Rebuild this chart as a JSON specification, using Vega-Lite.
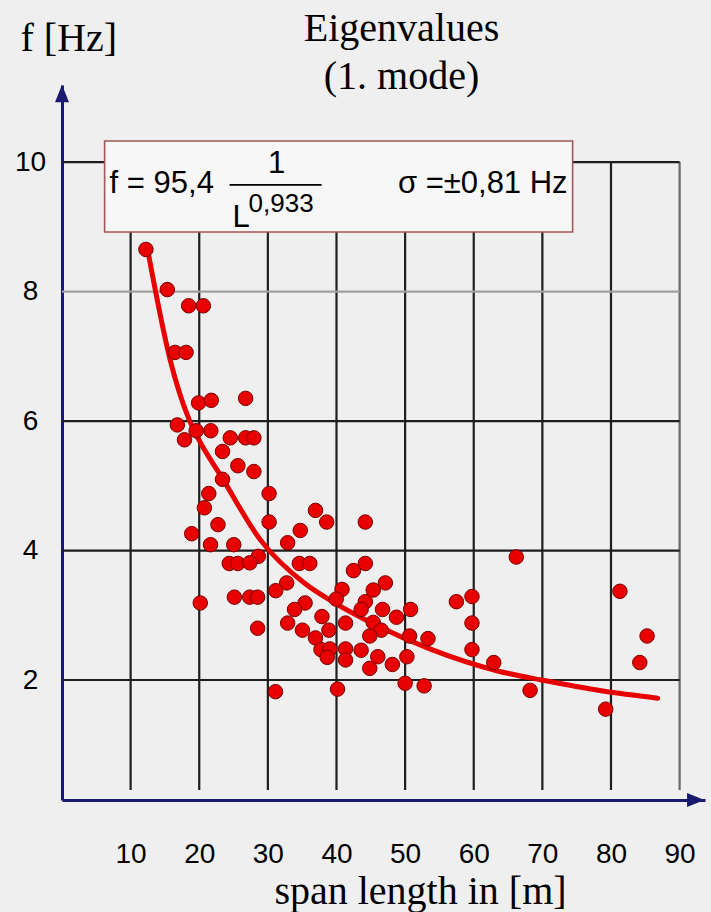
{
  "$schema": "https://vega.github.io/schema/vega-lite/v6.json",
  "width": 643,
  "height": 715,
  "autosize": {"type": "none"},
  "padding": {"left": 62, "top": 85, "right": 6, "bottom": 112},
  "background": "#efefef",
  "config": {"view": {"stroke": null}},
  "title": {
    "text": ["Eigenvalues", "(1. mode)"],
    "font": "Liberation Serif",
    "fontSize": 40,
    "fontWeight": "normal",
    "color": "#000000",
    "lineHeight": 48,
    "anchor": "middle",
    "frame": "group",
    "dx": 18,
    "dy": 79,
    "offset": 0
  },
  "datasets": {
    "pts": [
      {"L": 12.23, "f": 8.65}, {"L": 15.34, "f": 8.03}, {"L": 18.45, "f": 7.78}, {"L": 20.6, "f": 7.78},
      {"L": 16.48, "f": 7.06}, {"L": 18.08, "f": 7.06}, {"L": 19.9, "f": 6.28}, {"L": 21.75, "f": 6.32},
      {"L": 26.76, "f": 6.35}, {"L": 16.81, "f": 5.94}, {"L": 17.85, "f": 5.71}, {"L": 19.55, "f": 5.85},
      {"L": 21.69, "f": 5.85}, {"L": 24.52, "f": 5.74}, {"L": 26.76, "f": 5.74}, {"L": 27.96, "f": 5.74},
      {"L": 23.39, "f": 5.53}, {"L": 25.63, "f": 5.31}, {"L": 27.96, "f": 5.22}, {"L": 23.39, "f": 5.10},
      {"L": 21.39, "f": 4.88}, {"L": 20.75, "f": 4.66}, {"L": 30.18, "f": 4.88}, {"L": 30.18, "f": 4.44},
      {"L": 22.73, "f": 4.40}, {"L": 36.94, "f": 4.62}, {"L": 38.57, "f": 4.44}, {"L": 34.72, "f": 4.31},
      {"L": 18.9, "f": 4.26}, {"L": 44.2, "f": 4.44}, {"L": 21.64, "f": 4.09}, {"L": 25.03, "f": 4.09},
      {"L": 32.88, "f": 4.12}, {"L": 28.61, "f": 3.91}, {"L": 24.37, "f": 3.80}, {"L": 25.63, "f": 3.80},
      {"L": 27.36, "f": 3.81}, {"L": 34.58, "f": 3.80}, {"L": 36.11, "f": 3.80}, {"L": 44.2, "f": 3.80},
      {"L": 42.47, "f": 3.69}, {"L": 32.74, "f": 3.50}, {"L": 20.15, "f": 3.19}, {"L": 25.12, "f": 3.28},
      {"L": 27.36, "f": 3.28}, {"L": 28.51, "f": 3.28}, {"L": 31.15, "f": 3.38}, {"L": 40.8, "f": 3.40},
      {"L": 45.35, "f": 3.39}, {"L": 47.12, "f": 3.50}, {"L": 39.96, "f": 3.25}, {"L": 35.42, "f": 3.19},
      {"L": 33.89, "f": 3.09}, {"L": 44.2, "f": 3.21}, {"L": 43.59, "f": 3.09}, {"L": 46.71, "f": 3.09},
      {"L": 50.8, "f": 3.09}, {"L": 57.47, "f": 3.21}, {"L": 59.74, "f": 3.29}, {"L": 37.88, "f": 2.98},
      {"L": 48.74, "f": 2.97}, {"L": 32.88, "f": 2.88}, {"L": 41.32, "f": 2.88}, {"L": 38.89, "f": 2.77},
      {"L": 45.35, "f": 2.89}, {"L": 46.52, "f": 2.77}, {"L": 28.51, "f": 2.80}, {"L": 35.04, "f": 2.77},
      {"L": 44.85, "f": 2.68}, {"L": 50.65, "f": 2.68}, {"L": 53.33, "f": 2.64}, {"L": 59.74, "f": 2.88},
      {"L": 36.94, "f": 2.65}, {"L": 37.74, "f": 2.47}, {"L": 39.03, "f": 2.48}, {"L": 41.32, "f": 2.48},
      {"L": 43.59, "f": 2.46}, {"L": 38.65, "f": 2.35}, {"L": 41.32, "f": 2.31}, {"L": 46.02, "f": 2.36},
      {"L": 50.26, "f": 2.36}, {"L": 48.14, "f": 2.24}, {"L": 44.85, "f": 2.18}, {"L": 59.74, "f": 2.47},
      {"L": 62.92, "f": 2.27}, {"L": 50.0, "f": 1.95}, {"L": 52.77, "f": 1.91}, {"L": 31.11, "f": 1.82},
      {"L": 40.15, "f": 1.86}, {"L": 66.2, "f": 3.90}, {"L": 81.3, "f": 3.37}, {"L": 85.26, "f": 2.68},
      {"L": 84.2, "f": 2.27}, {"L": 68.21, "f": 1.84}, {"L": 79.23, "f": 1.55}
    ],
    "curve": [
      {"L": 12.6, "f": 8.58}, {"L": 15.75, "f": 6.95}, {"L": 18.5, "f": 6.03}, {"L": 19.9, "f": 5.72},
      {"L": 23.4, "f": 5.11}, {"L": 28.8, "f": 4.18}, {"L": 35.4, "f": 3.49}, {"L": 39.6, "f": 3.20},
      {"L": 46.1, "f": 2.83}, {"L": 53.6, "f": 2.48}, {"L": 63.5, "f": 2.14}, {"L": 69.9, "f": 2.0},
      {"L": 78.8, "f": 1.83}, {"L": 86.8, "f": 1.72}
    ],
    "vgrid": [{"v": 10}, {"v": 20}, {"v": 30}, {"v": 40}, {"v": 50}, {"v": 60}, {"v": 70}, {"v": 80}, {"v": 90}],
    "hgrid": [{"v": 2}, {"v": 4}, {"v": 6}, {"v": 8}, {"v": 10}],
    "box": [{"x1": 6.21, "x2": 74.41, "y1": 8.92, "y2": 10.325}],
    "fracline": [{"x1": 24.42, "x2": 37.83, "y": 9.646}],
    "txt_main": [
      {"x": 6.94, "y": 9.522, "t": "f = 95,4"},
      {"x": 24.86, "y": 8.997, "t": "L"}
    ],
    "txt_num": [{"x": 31.27, "y": 9.831, "t": "1"}],
    "txt_exp": [{"x": 27.19, "y": 9.229, "t": "0,933"}],
    "txt_sigma": [{"x": 73.68, "y": 9.522, "t": "σ =±0,81 Hz"}],
    "arrow_y": [{"x": 0, "y": 11.02}],
    "arrow_x": [{"x": 92.0, "y": 0.147}]
  },
  "layer": [
    {
      "data": {"name": "pts"},
      "mark": {"type": "point", "shape": "circle", "filled": true, "size": 0, "opacity": 0},
      "encoding": {
        "x": {
          "field": "L", "type": "quantitative",
          "scale": {"domain": [0, 93.7], "nice": false, "zero": false},
          "axis": {
            "title": "span length in [m]",
            "values": [10, 20, 30, 40, 50, 60, 70, 80, 90],
            "format": "d",
            "grid": false, "ticks": false, "tickSize": 0,
            "domainColor": "#1a1a6e", "domainWidth": 3,
            "labelFont": "Liberation Sans", "labelFontSize": 28, "labelColor": "#000000",
            "labelPadding": 62, "labelBaseline": "alphabetic", "labelFlush": false, "labelOverlap": false,
            "titleFont": "Liberation Serif", "titleFontSize": 40, "titleFontWeight": "normal", "titleColor": "#000000",
            "titleX": 358, "titleY": 103, "titleBaseline": "alphabetic", "titleAlign": "center"
          }
        },
        "y": {
          "field": "f", "type": "quantitative",
          "scale": {"domain": [0.147, 11.19], "nice": false, "zero": false},
          "axis": {
            "title": "f [Hz]",
            "values": [2, 4, 6, 8, 10],
            "format": "d",
            "grid": false, "ticks": false, "tickSize": 0,
            "domainColor": "#1a1a6e", "domainWidth": 3,
            "labelFont": "Liberation Sans", "labelFontSize": 28, "labelColor": "#000000",
            "labelPadding": 32, "labelAlign": "center", "labelBaseline": "middle", "labelFlush": false, "labelOverlap": false,
            "titleFont": "Liberation Serif", "titleFontSize": 40, "titleFontWeight": "normal", "titleColor": "#000000",
            "titleAngle": 0, "titleX": -42, "titleY": -35, "titleAlign": "left", "titleBaseline": "alphabetic"
          }
        }
      }
    },
    {
      "data": {"name": "vgrid"},
      "mark": {"type": "rule", "strokeWidth": 2.2},
      "encoding": {
        "x": {"field": "v", "type": "quantitative"},
        "y": {"datum": 0.3, "type": "quantitative"},
        "y2": {"datum": 10},
        "color": {"condition": {"test": "datum.v == 90", "value": "#6a6a6a"}, "value": "#1e1e1e"}
      }
    },
    {
      "data": {"name": "hgrid"},
      "mark": {"type": "rule", "strokeWidth": 2.2},
      "encoding": {
        "y": {"field": "v", "type": "quantitative"},
        "x": {"datum": 0, "type": "quantitative"},
        "x2": {"datum": 90},
        "color": {"condition": {"test": "datum.v == 8", "value": "#a0a0a0"}, "value": "#1e1e1e"}
      }
    },
    {
      "data": {"name": "curve"},
      "mark": {"type": "line", "color": "#e80000", "strokeWidth": 5, "interpolate": "monotone", "strokeCap": "round"},
      "encoding": {
        "x": {"field": "L", "type": "quantitative"},
        "y": {"field": "f", "type": "quantitative"}
      }
    },
    {
      "data": {"name": "pts"},
      "mark": {"type": "point", "shape": "circle", "filled": true, "size": 210, "fill": "#e80000", "stroke": "#7a0000", "strokeWidth": 1, "opacity": 1},
      "encoding": {
        "x": {"field": "L", "type": "quantitative"},
        "y": {"field": "f", "type": "quantitative"}
      }
    },
    {
      "data": {"name": "box"},
      "mark": {"type": "rect", "fill": "#f7f7f7", "stroke": "#a05858", "strokeWidth": 1.6},
      "encoding": {
        "x": {"field": "x1", "type": "quantitative"},
        "x2": {"field": "x2"},
        "y": {"field": "y1", "type": "quantitative"},
        "y2": {"field": "y2"}
      }
    },
    {
      "data": {"name": "fracline"},
      "mark": {"type": "rule", "color": "#000000", "strokeWidth": 1.8},
      "encoding": {
        "x": {"field": "x1", "type": "quantitative"},
        "x2": {"field": "x2"},
        "y": {"field": "y", "type": "quantitative"}
      }
    },
    {
      "data": {"name": "txt_main"},
      "mark": {"type": "text", "font": "Liberation Sans", "fontSize": 31, "align": "left", "baseline": "alphabetic", "color": "#000000"},
      "encoding": {
        "x": {"field": "x", "type": "quantitative"},
        "y": {"field": "y", "type": "quantitative"},
        "text": {"field": "t"}
      }
    },
    {
      "data": {"name": "txt_num"},
      "mark": {"type": "text", "font": "Liberation Sans", "fontSize": 31, "align": "center", "baseline": "alphabetic", "color": "#000000"},
      "encoding": {
        "x": {"field": "x", "type": "quantitative"},
        "y": {"field": "y", "type": "quantitative"},
        "text": {"field": "t"}
      }
    },
    {
      "data": {"name": "txt_exp"},
      "mark": {"type": "text", "font": "Liberation Sans", "fontSize": 26, "align": "left", "baseline": "alphabetic", "color": "#000000"},
      "encoding": {
        "x": {"field": "x", "type": "quantitative"},
        "y": {"field": "y", "type": "quantitative"},
        "text": {"field": "t"}
      }
    },
    {
      "data": {"name": "txt_sigma"},
      "mark": {"type": "text", "font": "Liberation Sans", "fontSize": 31, "align": "right", "baseline": "alphabetic", "color": "#000000"},
      "encoding": {
        "x": {"field": "x", "type": "quantitative"},
        "y": {"field": "y", "type": "quantitative"},
        "text": {"field": "t"}
      }
    },
    {
      "data": {"name": "arrow_y"},
      "mark": {"type": "point", "shape": "M0,-1.6L1,0.9L-1,0.9Z", "filled": true, "size": 196, "fill": "#1a1a6e", "stroke": null, "opacity": 1},
      "encoding": {
        "x": {"field": "x", "type": "quantitative"},
        "y": {"field": "y", "type": "quantitative"}
      }
    },
    {
      "data": {"name": "arrow_x"},
      "mark": {"type": "point", "shape": "M1.6,0L-0.9,1L-0.9,-1Z", "filled": true, "size": 196, "fill": "#1a1a6e", "stroke": null, "opacity": 1},
      "encoding": {
        "x": {"field": "x", "type": "quantitative"},
        "y": {"field": "y", "type": "quantitative"}
      }
    }
  ]
}
